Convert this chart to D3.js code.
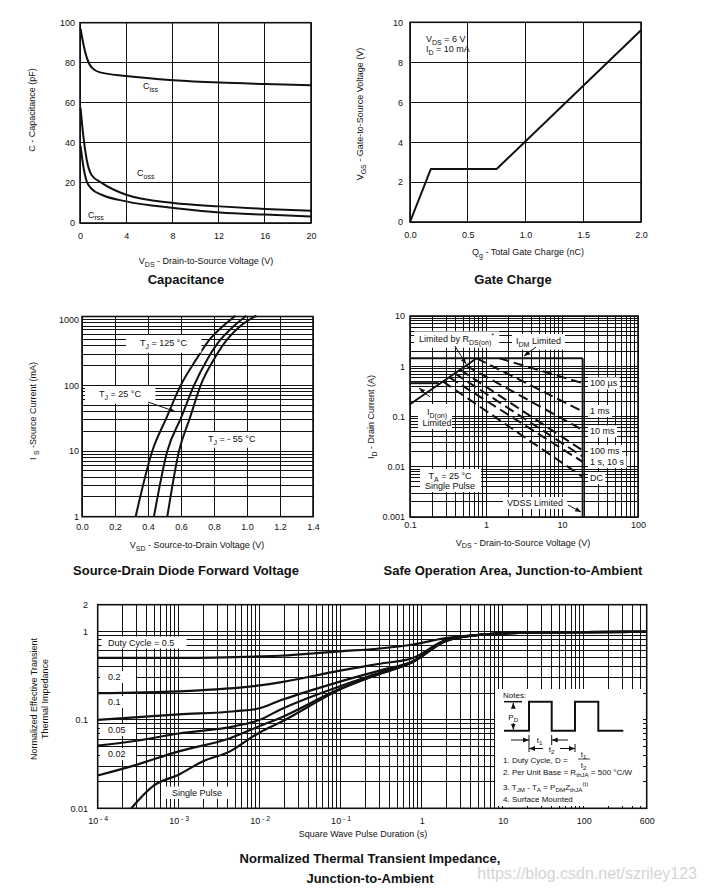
<!DOCTYPE html>
<html>
<head>
<meta charset="UTF-8">
<script src="https://d3js.org/d3.v7.min.js"></script>
<style>
  body { margin: 0; background: #fff; }
  text { font-family: 'Liberation Sans', Arial, sans-serif; fill: #111; }
</style>
</head>
<body>
<div class="myDiv"></div>
<script>
// ---- capacitance (pF vs V) ----
var capXTicks = [0, 4, 8, 12, 16, 20];
var capYTicks = [0, 20, 40, 60, 80, 100];
var ciss = [[0.05,97],[0.29,89.4],[0.58,82.7],[1.0,77.7],[1.73,75.2],[4,73.4],[8.1,71.3],[12.1,70.1],[16,69.4],[20,68.8]];
var coss = [[0.05,57.5],[0.29,43.2],[0.58,31.6],[1.0,24],[1.88,20],[4,14.1],[8.1,10],[12.1,8.3],[16,7],[20,6.1]];
var crss = [[0.05,38.5],[0.29,28.2],[0.58,20.8],[1.0,17.1],[1.88,14.1],[4,10.8],[8.1,7.5],[12.1,5.3],[16,4.2],[20,3.3]];

// ---- gate charge ----
var gateXTicks = [0, 0.5, 1.0, 1.5, 2.0];
var gateYTicks = [0, 2, 4, 6, 8, 10];
var gateCurve = [[0,0],[0.18,2.65],[0.75,2.65],[2.0,9.6]];

// ---- source-drain diode ----
var sdXTicks = [0, 0.2, 0.4, 0.6, 0.8, 1.0, 1.2, 1.4];
var sdYTicks = [1, 10, 100, 1000];
var sd125 = [[0.325,1],[0.426,10],[0.512,32],[0.598,100],[0.693,250],[0.774,500],[0.855,800],[0.93,1150]];
var sd25  = [[0.436,1],[0.517,10],[0.6,32],[0.679,100],[0.76,250],[0.84,500],[0.92,800],[0.996,1150]];
var sdm55 = [[0.517,1],[0.588,10],[0.654,32],[0.719,100],[0.8,250],[0.88,500],[0.96,800],[1.057,1150]];

// ---- safe operating area ----
var soaXTicks = [0.1, 1, 10, 100];
var soaYTicks = [0.001, 0.01, 0.1, 1, 10];
var rdsLine  = [[0.1,0.175],[0.755,1.44]];
var idmLine  = [[0.1,1.44],[18.7,1.44]];
var idonLine = [[0.1,0.46],[0.24,0.46]];
var vdssLine = [[18.7,1.44],[18.7,0.001]];
var pulseLines = [
  [[1.5,1.44],[18.7,0.46]],
  [[0.755,1.44],[18.7,0.126]],
  [[0.55,1.02],[18.7,0.054]],
  [[0.46,0.85],[18.7,0.021]],
  [[0.39,0.72],[18.7,0.016]],
  [[0.33,0.6],[18.7,0.0125]],
  [[0.27,0.5],[18.7,0.0063]]
];
var pulseLabels = ["100 µs", "1 ms", "10 ms", "100 ms", "1 s, 10 s", "DC"];
var pulseLabelI = [0.46, 0.13, 0.051, 0.021, 0.0125, 0.006];

// ---- thermal transient ----
var thXTicks = [1e-4, 1e-3, 1e-2, 1e-1, 1, 10, 100, 600];
var thYTicks = [0.01, 0.1, 1, 2];
var tail = [[5.3,0.915],[10,0.95],[30,0.97],[100,0.98],[600,0.985]];
var th05 = [[1e-4,0.5],[1e-3,0.5],[1e-2,0.52],[0.0178,0.53],[0.098,0.594],[0.3,0.64],[0.78,0.71],[2,0.84]].concat(tail);
var th02 = [[1e-4,0.2],[1e-3,0.21],[1e-2,0.245],[0.0178,0.265],[0.098,0.36],[0.3,0.43],[0.78,0.5],[2,0.8]].concat(tail);
var th01 = [[1e-4,0.1],[1e-3,0.115],[5e-3,0.125],[1e-2,0.135],[0.0178,0.165],[0.098,0.27],[0.3,0.36],[0.78,0.46],[2,0.79]].concat(tail);
var th005 = [[1e-4,0.051],[3e-4,0.058],[1e-3,0.07],[5e-3,0.085],[1e-2,0.1],[0.0178,0.13],[0.098,0.24],[0.3,0.34],[0.78,0.455],[2,0.785]].concat(tail);
var th002 = [[1e-4,0.0235],[3e-4,0.031],[1e-3,0.044],[4.3e-3,0.062],[1e-2,0.085],[0.0178,0.105],[0.098,0.225],[0.3,0.33],[0.78,0.45],[2,0.78]].concat(tail);
var thSingle = [[2.6e-4,0.01],[4.9e-4,0.018],[1e-3,0.024],[2e-3,0.034],[4.3e-3,0.044],[8.3e-3,0.065],[1e-2,0.072],[0.0178,0.093],[0.098,0.22],[0.3,0.33],[0.78,0.45],[2,0.78]].concat(tail);
var thLabels = ["Duty Cycle = 0.5", "0.2", "0.1", "0.05", "0.02"];
var thLabelY = [642.5, 677, 702, 730, 754];

var svg = d3.select(".myDiv").append("svg").attr("width", 704).attr("height", 890);

svg.append("defs").append("marker")
  .attr("id", "ah").attr("viewBox", "0 0 10 10").attr("refX", 10).attr("refY", 5)
  .attr("markerWidth", 6).attr("markerHeight", 6).attr("orient", "auto-start-reverse")
  .append("path").attr("d", "M0,1L10,5L0,9z").attr("fill", "#111");

// text with sub/superscripts: parts are strings or [str, 'sub'|'sup']
function rich(g, x, y, parts, size, anchor, weight) {
  var t = g.append("text").attr("x", x).attr("y", y).attr("font-size", size)
    .attr("text-anchor", anchor || "start");
  if (weight) t.attr("font-weight", weight);
  var shift = 0;
  parts.forEach(function(p) {
    var s = typeof p === "string" ? [p, ""] : p;
    var target = s[1] === "sub" ? size * 0.3 : s[1] === "sup" ? -size * 0.4 : 0;
    var ts = t.append("tspan").text(s[0]).attr("dy", target - shift);
    if (s[1]) ts.attr("font-size", size * 0.78);
    shift = target;
  });
  return t;
}

function boxed(g, t, px, py) {
  var b = t.node().getBBox();
  g.insert("rect", function() { return t.node(); })
    .attr("x", b.x - px).attr("y", b.y - py)
    .attr("width", b.width + 2 * px).attr("height", b.height + 2 * py)
    .attr("fill", "#fff");
}

function rect(g, x0, y0, x1, y1) {
  g.append("rect").attr("x", x0).attr("y", y0).attr("width", x1 - x0).attr("height", y1 - y0).attr("fill", "#fff");
}

function arrow(g, x1, y1, x2, y2) {
  g.append("line").attr("x1", x1).attr("y1", y1).attr("x2", x2).attr("y2", y2)
    .attr("stroke", "#111").attr("stroke-width", 1).attr("marker-end", "url(#ah)");
}

function grid(x, y, xv, yv) {
  var g = svg.append("g").attr("stroke", "#111").attr("stroke-width", 1).attr("shape-rendering", "crispEdges");
  var xr = x.range(), yr = y.range();
  g.selectAll(null).data(xv).enter().append("line")
    .attr("x1", function(d) { return x(d); }).attr("x2", function(d) { return x(d); })
    .attr("y1", yr[0]).attr("y2", yr[1]);
  g.selectAll(null).data(yv).enter().append("line")
    .attr("y1", function(d) { return y(d); }).attr("y2", function(d) { return y(d); })
    .attr("x1", xr[0]).attr("x2", xr[1]);
  return g;
}

function border(x, y) {
  var xr = x.range(), yr = y.range();
  svg.append("rect").attr("x", xr[0]).attr("y", yr[1]).attr("width", xr[1] - xr[0]).attr("height", yr[0] - yr[1])
    .attr("fill", "none").attr("stroke", "#111").attr("stroke-width", 1.6);
}

function axes(x, y, xv, yv, fx, fy, xTop, yRight) {
  var ax = svg.append("g").attr("transform", "translate(0," + xTop + ")")
    .call(d3.axisBottom(x).tickValues(xv).tickFormat(fx).tickSize(0).tickPadding(0));
  ax.select(".domain").remove();
  ax.attr("font-size", 9).attr("font-family", null);
  var ay = svg.append("g").attr("transform", "translate(" + yRight + ",0)")
    .call(d3.axisLeft(y).tickValues(yv).tickFormat(fy).tickSize(0).tickPadding(0));
  ay.select(".domain").remove();
  ay.attr("font-size", 9).attr("font-family", null);
  return ax;
}

function curve(x, y, data, w, dash, kind) {
  var line = d3.line().x(function(d) { return x(d[0]); }).y(function(d) { return y(d[1]); })
    .curve(kind || d3.curveMonotoneX);
  var p = svg.append("path").datum(data).attr("d", line).attr("fill", "none")
    .attr("stroke", "#111").attr("stroke-width", w).attr("stroke-linejoin", "round");
  if (dash) p.attr("stroke-dasharray", dash);
  return p;
}

function yLabel(cx, cy, parts, size) {
  var g = svg.append("g").attr("transform", "translate(" + cx + "," + cy + ") rotate(-90)");
  rich(g, 0, 0, parts, size || 9, "middle");
}

var fmt1 = d3.format(".1f");

// ================= Capacitance =================
var cx = d3.scaleLinear().domain([0, 20]).range([80, 311]);
var cy = d3.scaleLinear().domain([0, 100]).range([223, 22.7]);
grid(cx, cy, capXTicks, capYTicks);
curve(cx, cy, ciss, 2);
curve(cx, cy, coss, 2);
curve(cx, cy, crss, 2);
axes(cx, cy, capXTicks, capYTicks, d3.format("d"), d3.format("d"), 233, 75);
rich(svg, 143, 89, ["C", ["iss", "sub"]], 9);
rich(svg, 137, 176, ["C", ["oss", "sub"]], 9);
rich(svg, 88, 217.5, ["C", ["rss", "sub"]], 9);
border(cx, cy);
yLabel(35, 110, ["C - Capacitance (pF)"]);
rich(svg, 206, 264, ["V", ["DS", "sub"], " - Drain-to-Source Voltage (V)"], 9, "middle");
rich(svg, 186, 284, ["Capacitance"], 13, "middle", "bold");

// ================= Gate charge =================
var gx = d3.scaleLinear().domain([0, 2]).range([410, 641]);
var gy = d3.scaleLinear().domain([0, 10]).range([222, 22.3]);
grid(gx, gy, gateXTicks, gateYTicks);
curve(gx, gy, gateCurve, 2, null, d3.curveLinear);
axes(gx, gy, gateXTicks, gateYTicks, fmt1, d3.format("d"), 231.5, 403);
rich(svg, 426, 42, ["V", ["DS", "sub"], " = 6 V"], 9);
rich(svg, 426, 52, ["I", ["D", "sub"], " = 10 mA"], 9);
border(gx, gy);
yLabel(363, 114, ["V", ["GS", "sub"], "  - Gate-to-Source Voltage (V)"]);
rich(svg, 528, 255, ["Q", ["g", "sub"], " - Total Gate Charge (nC)"], 9, "middle");
rich(svg, 513, 284, ["Gate Charge"], 13, "middle", "bold");

// ================= Source-drain diode =================
var sx = d3.scaleLinear().domain([0, 1.4]).range([82, 313]);
var sy = d3.scaleLog().domain([1, 1120]).range([516.7, 316.5]);
grid(sx, sy, sdXTicks, sy.ticks().filter(function(d) { return d <= 1000; }));
curve(sx, sy, sd125, 2);
curve(sx, sy, sd25, 2);
curve(sx, sy, sdm55, 2);
axes(sx, sy, sdXTicks, sdYTicks, fmt1, d3.format("d"), 524, 79);
var l1 = rich(svg, 140, 346, ["T", ["J", "sub"], " = 125 °C"], 9); boxed(svg, l1, 14, 3);
var l2 = rich(svg, 99, 397, ["T", ["J", "sub"], " = 25 °C"], 9); boxed(svg, l2, 14, 3);
var l3 = rich(svg, 208, 442, ["T", ["J", "sub"], " = - 55 °C"], 9); boxed(svg, l3, 6, 2);
arrow(svg, 148, 402, 175, 411.5);
border(sx, sy);
yLabel(36, 411, ["I ", ["S", "sub"], " -Source Current (mA)"]);
rich(svg, 197, 548, ["V", ["SD", "sub"], " - Source-to-Drain Voltage (V)"], 9, "middle");
rich(svg, 186, 574.5, ["Source-Drain Diode Forward Voltage"], 13, "middle", "bold");

// ================= Safe operating area =================
var ox = d3.scaleLog().domain([0.1, 100]).range([410, 638]);
var oy = d3.scaleLog().domain([0.001, 10]).range([517, 316]);
grid(ox, oy, ox.ticks(), oy.ticks());
curve(ox, oy, rdsLine, 2, null, d3.curveLinear);
curve(ox, oy, idmLine, 2, null, d3.curveLinear);
curve(ox, oy, idonLine, 2, null, d3.curveLinear);
curve(ox, oy, vdssLine, 2, null, d3.curveLinear);
pulseLines.forEach(function(pl) { curve(ox, oy, pl, 2, "10,5", d3.curveLinear); });
var sg = svg.append("g");
pulseLabels.forEach(function(s, i) {
  var t = rich(sg, 590, oy(pulseLabelI[i]) + 3.2, [s], 9);
  boxed(sg, t, 2, 1);
});
var o1 = rich(svg, 419, 342, ["Limited by R", ["DS(on)", "sub"], ["*", "sup"]], 9); boxed(svg, o1, 5, 1);
var o2 = rich(svg, 516, 344, ["I", ["DM", "sub"], " Limited"], 9); boxed(svg, o2, 4, 2);
var o3 = rich(svg, 437, 415, ["I", ["D(on)", "sub"]], 9, "middle");
var o4 = rich(svg, 437, 426, ["Limited"], 9, "middle");
rect(svg, 418, 404, 452, 429); svg.node().appendChild(o3.node()); svg.node().appendChild(o4.node());
var o5 = rich(svg, 450, 479, ["T", ["A", "sub"], " = 25 °C"], 9, "middle");
var o6 = rich(svg, 450, 489, ["Single Pulse"], 9, "middle");
rect(svg, 420, 469, 481, 492); svg.node().appendChild(o5.node()); svg.node().appendChild(o6.node());
var o7 = rich(svg, 507, 506, ["VDSS Limited"], 9); boxed(svg, o7, 4, 1);
arrow(svg, 455, 346, 466, 364);
arrow(svg, 536, 347, 524, 356);
arrow(svg, 430, 397, 419, 388);
arrow(svg, 568, 505, 581, 512);
border(ox, oy);
yLabel(374, 417, ["I", ["D", "sub"], " - Drain Current (A)"]);
axes(ox, oy, soaXTicks, soaYTicks, function(d) { return String(d); }, function(d) { return String(d); }, 522, 405);
rich(svg, 523, 545.5, ["V", ["DS", "sub"], " - Drain-to-Source Voltage (V)"], 9, "middle");
rich(svg, 513, 574.5, ["Safe Operation Area, Junction-to-Ambient"], 13, "middle", "bold");

// ================= Thermal transient =================
var tx = d3.scaleLog().domain([1e-4, 600]).range([97.7, 646.7]);
var ty = d3.scaleLog().domain([0.01, 2]).range([808.3, 604.7]);
grid(tx, ty, tx.ticks(), ty.ticks());
[th05, th02, th01, th005, th002, thSingle].forEach(function(s) { curve(tx, ty, s, 2.2); });
var tg = svg.append("g");
thLabels.forEach(function(s, i) {
  if (i === 0) { rect(tg, 101.5, thLabelY[i] - 6, 186.5, thLabelY[i] + 6); }
  else { rect(tg, 100, thLabelY[i] - 6, 136, thLabelY[i] + 6); }
  rich(tg, 108, thLabelY[i] + 3.2, [s], 9);
});
rect(tg, 165, 786.5, 228, 799);
rich(tg, 172, 796, ["Single Pulse"], 9);

// notes box
var ng = svg.append("g");
rect(ng, 495, 689, 643, 806);
rich(ng, 503, 698, ["Notes:"], 8);
var nx = 504, lo = 730.7, hi = 701.7;
var wave = [[0,lo],[25,lo],[25,hi],[47.7,hi],[47.7,lo],[71,lo],[71,hi],[94.3,hi],[94.3,lo],[119.3,lo]];
ng.append("path").attr("d", d3.line().x(function(d) { return nx + d[0]; }).y(function(d) { return d[1]; })(wave))
  .attr("fill", "none").attr("stroke", "#111").attr("stroke-width", 2);
ng.append("line").attr("x1", nx).attr("x2", nx + 18).attr("y1", hi).attr("y2", hi).attr("stroke", "#111").attr("stroke-width", 1.5);
arrow(ng, nx + 9.3, 708, nx + 9.3, hi + 1);
arrow(ng, nx + 9.3, 723, nx + 9.3, lo - 1);
rich(ng, nx + 9.3, 719.5, ["P", ["D", "sub"]], 8, "middle");
function tick(g, x, y0, y1) { g.append("line").attr("x1", x).attr("x2", x).attr("y1", y0).attr("y2", y1).attr("stroke", "#111"); }
tick(ng, nx + 25, 735, 752); tick(ng, nx + 47.7, 735, 745); tick(ng, nx + 71, 744, 752);
arrow(ng, nx + 7, 740, nx + 25, 740);
arrow(ng, nx + 64, 740, nx + 47.7, 740);
rich(ng, nx + 35.5, 743, ["t", ["1", "sub"]], 8, "middle");
arrow(ng, nx + 39, 748.5, nx + 25, 748.5);
arrow(ng, nx + 56, 748.5, nx + 71, 748.5);
rich(ng, nx + 47.7, 752, ["t", ["2", "sub"]], 8, "middle");
rich(ng, 503, 763, ["1. Duty Cycle, D ="], 8);
rich(ng, 583.5, 756.5, ["t", ["1", "sub"]], 8, "middle");
ng.append("line").attr("x1", 578).attr("x2", 590).attr("y1", 759).attr("y2", 759).attr("stroke", "#111").attr("stroke-width", 0.8);
rich(ng, 583.5, 767.5, ["t", ["2", "sub"]], 8, "middle");
rich(ng, 503, 775, ["2. Per Unit Base = R", ["thJA", "sub"], " = 500 °C/W"], 8);
rich(ng, 503, 789.5, ["3. T", ["JM", "sub"], " - T", ["A", "sub"], " = P", ["DM", "sub"], "Z", ["thJA", "sub"], ["(t)", "sup"]], 8);
rich(ng, 503, 802, ["4. Surface Mounted"], 8);

border(tx, ty);
var tax = axes(tx, ty, thXTicks, thYTicks, function(d) { return String(d); }, function(d) { return String(d); }, 818, 88);
tax.selectAll("text").each(function(d) {
  if (d < 0.5) {
    var e = Math.round(Math.log10(d));
    var s = d3.select(this).text("10");
    s.append("tspan").attr("dy", "-0.45em").attr("font-size", 7).text(" - " + Math.abs(e));
  }
});
var yl = svg.append("g").attr("transform", "translate(37,699) rotate(-90)");
rich(yl, 0, 0, ["Normalized Effective Transient"], 9, "middle");
rich(yl, 0, 11, ["Thermal Impedance"], 9, "middle");
rich(svg, 363, 837, ["Square Wave Pulse Duration (s)"], 9, "middle");
rich(svg, 370, 862.5, ["Normalized Thermal Transient Impedance,"], 13, "middle", "bold");
rich(svg, 370, 882.5, ["Junction-to-Ambient"], 13, "middle", "bold");

svg.append("text").attr("x", 697).attr("y", 879).attr("text-anchor", "end")
  .attr("font-size", 16).style("fill", "#d4d4d4").text("https://blog.csdn.net/szriley123");
</script>
</body>
</html>
